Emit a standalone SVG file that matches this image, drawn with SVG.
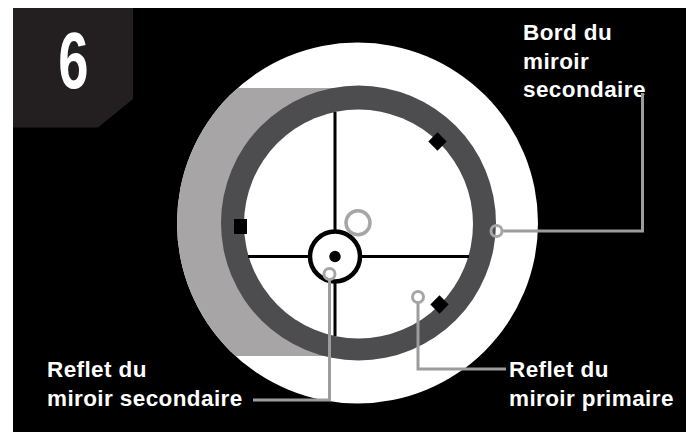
<svg xmlns="http://www.w3.org/2000/svg" width="691" height="432" viewBox="0 0 691 432">
<style>
.t{font-family:"Liberation Sans",Arial,sans-serif;font-weight:700;font-size:22.500px;letter-spacing:.4px;fill:#fff}
.c{fill:none;stroke:#9c9c9f;stroke-width:3}
.r{fill:none;stroke:#a7a5a6;stroke-width:3}
.x{stroke:#000;stroke-width:3;fill:none}
</style>
<defs><clipPath id="disc"><circle cx="357.500" cy="223" r="180.500"/></clipPath></defs>
<rect width="691" height="432" fill="#fff"/>
<rect x="13" y="8" width="673" height="424" fill="#000"/>
<g id="badge"><path d="M13 8H133V99L98 127.500H13Z" fill="#231f20"/>
<text x="73.500" y="88" text-anchor="middle" style="font-family:'Liberation Sans',Arial,sans-serif;font-weight:700;font-size:80px;fill:#fff" transform="translate(73.500 0) scale(.68 1) translate(-73.500 0)">6</text></g>
<g id="mirror">
<circle cx="357.500" cy="223" r="180.500" fill="#fff"/>
<rect x="170" y="88" width="190" height="268" fill="#a7a5a6" clip-path="url(#disc)"/>
<circle cx="358.500" cy="223" r="137.500" fill="#4d4d4f"/>
<circle cx="358.500" cy="224" r="114.500" fill="#fff"/>
</g>
<g id="crosshair">
<path class="x" d="M335 112V231M335 281V336M248 256.500H310M360 256.500H469"/>
<circle cx="335" cy="256.500" r="25" fill="none" stroke="#000" stroke-width="4.500"/>
<circle cx="335" cy="256.500" r="5.700" fill="#000"/>
<rect x="234" y="219" width="13" height="15" fill="#000"/>
<rect x="431" y="135" width="13" height="13" fill="#000" transform="rotate(45 437.500 141.500)"/>
<rect x="433" y="298" width="13" height="13" fill="#000" transform="rotate(45 439.500 304.500)"/>
<circle cx="358" cy="222.700" r="12" fill="none" stroke="#a7a5a6" stroke-width="3.500"/>
</g>
<g id="label-bord"><text class="t" x="523" y="40">Bord du</text><text class="t" x="523" y="68.500">miroir</text><text class="t" x="523" y="96.500">secondaire</text></g>
<g id="label-secondaire"><text class="t" x="47" y="377">Reflet du</text><text class="t" x="47" y="405.500">miroir secondaire</text></g>
<g id="label-primaire"><text class="t" x="509" y="377">Reflet du</text><text class="t" x="509" y="405.500">miroir primaire</text></g>
<g id="connectors">
<path class="c" d="M501 231H642.500V93"/>
<path class="c" d="M329.500 280V400H253"/>
<path class="c" d="M418 302V369H506"/>
<circle class="r" cx="496.500" cy="231" r="5.500"/>
<circle class="r" cx="329.500" cy="274" r="5.500"/>
<circle class="r" cx="418" cy="297" r="5.500"/>
</g>
</svg>
